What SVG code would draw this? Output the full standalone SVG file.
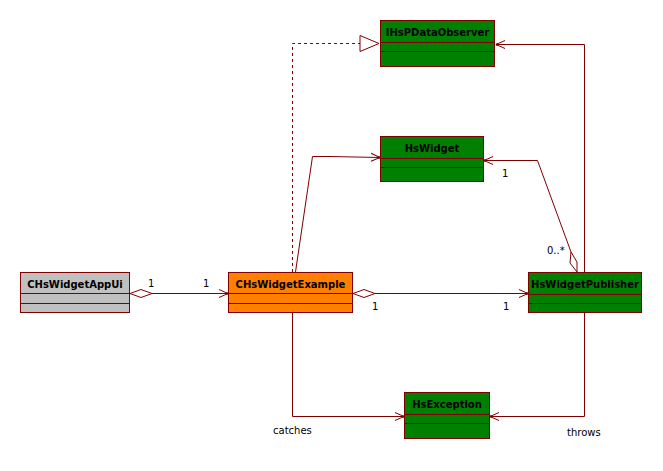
<svg xmlns="http://www.w3.org/2000/svg" width="663" height="471" viewBox="0 0 663 471">
  <style>
    .box { stroke: #800000; stroke-width: 1; }
    .green { fill: #008000; }
    .orange { fill: #ff8000; }
    .grey { fill: #c0c0c0; }
    .div { stroke: #800000; stroke-width: 1; fill: none; }
    .name { font-family: "DejaVu Sans", "Liberation Sans", sans-serif; font-weight: bold; font-size: 10px; fill: #000; text-anchor: middle; }
    .lbl { font-family: "DejaVu Sans", "Liberation Sans", sans-serif; font-size: 10px; fill: #000; }
    .edge { stroke: #800000; stroke-width: 1; fill: none; }
    .dash { stroke-dasharray: 3 3; }
  </style>
  <defs>
    <marker id="open" viewBox="-10 -5 12 10" refX="0" refY="0" markerWidth="12" markerHeight="10" markerUnits="userSpaceOnUse" orient="auto">
      <path d="M-9,-4 L0,0 L-9,4" fill="none" stroke="#800000" stroke-width="1"/>
      <circle cx="-1" cy="0" r="1.2" fill="#800000"/>
    </marker>
    <marker id="tri" viewBox="-20 -9 22 18" refX="0" refY="0" markerWidth="22" markerHeight="18" markerUnits="userSpaceOnUse" orient="auto">
      <path d="M-19,-8 L0,0 L-19,8 Z" fill="#fff" stroke="#800000" stroke-width="1"/>
    </marker>
    <marker id="dia" viewBox="-2 -6 26 12" refX="0" refY="0" markerWidth="26" markerHeight="12" markerUnits="userSpaceOnUse" orient="auto">
      <path d="M0,0 L11,-4 L22,0 L11,4 Z" fill="#fff" stroke="#800000" stroke-width="1"/>
    </marker>
  </defs>

  <rect width="663" height="471" fill="#fff"/>

  <g id="connectors">
    <!-- realization: CHsWidgetExample implements IHsPDataObserver -->
    <path class="edge dash" d="M292.5,272 V43.5 H379" marker-end="url(#tri)"/>
    <!-- CHsWidgetExample uses HsWidget -->
    <path class="edge" d="M295.5,272 L312.5,156.5 H330 L380,157.5" marker-end="url(#open)"/>
    <!-- HsWidgetPublisher observes IHsPDataObserver -->
    <path class="edge" d="M584.5,272 V44.5 H496" marker-end="url(#open)"/>
    <!-- HsWidgetPublisher aggregates HsWidget -->
    <path class="edge" d="M577,272 L570,263 L571,252 L577,262 Z" fill="#fff"/>
    <path class="edge" d="M571,252 L537.5,160.5 H484" marker-end="url(#open)"/>
    <!-- CHsWidgetAppUi owns CHsWidgetExample -->
    <path class="edge" d="M130,293.5 H228" marker-start="url(#dia)" marker-end="url(#open)"/>
    <!-- CHsWidgetExample owns HsWidgetPublisher -->
    <path class="edge" d="M353,293.5 H528" marker-start="url(#dia)" marker-end="url(#open)"/>
    <!-- catches / throws HsException -->
    <path class="edge" d="M292.5,313 V416.5 H404" marker-end="url(#open)"/>
    <path class="edge" d="M584.5,313 V416.5 H490" marker-end="url(#open)"/>
  </g>

  <g id="labels">
    <text class="lbl" x="148" y="287">1</text>
    <text class="lbl" x="203" y="287">1</text>
    <text class="lbl" x="372" y="310">1</text>
    <text class="lbl" x="503" y="310">1</text>
    <text class="lbl" x="502" y="177">1</text>
    <text class="lbl" x="547" y="254">0..*</text>
    <text class="lbl" x="273" y="434">catches</text>
    <text class="lbl" x="567" y="436">throws</text>
  </g>

  <g id="IHsPDataObserver">
    <rect class="box green" x="380.5" y="20.5" width="114" height="46"/>
    <path class="div" d="M380.5,42.5 H494.5 M380.5,51.5 H494.5"/>
    <text class="name" x="437.5" y="35.5">IHsPDataObserver</text>
  </g>

  <g id="HsWidget">
    <rect class="box green" x="380.5" y="136.5" width="103" height="45"/>
    <path class="div" d="M380.5,158.5 H483.5 M380.5,167.5 H483.5"/>
    <text class="name" x="432" y="151.5">HsWidget</text>
  </g>

  <g id="CHsWidgetAppUi">
    <rect class="box grey" x="20.5" y="272.5" width="109" height="40"/>
    <path class="div" d="M20.5,293.5 H129.5 M20.5,303.5 H129.5"/>
    <text class="name" x="75" y="287.5">CHsWidgetAppUi</text>
  </g>

  <g id="CHsWidgetExample">
    <rect class="box orange" x="228.5" y="272.5" width="124" height="40"/>
    <path class="div" d="M228.5,293.5 H352.5 M228.5,303.5 H352.5"/>
    <text class="name" x="290.5" y="287.5">CHsWidgetExample</text>
  </g>

  <g id="HsWidgetPublisher">
    <rect class="box green" x="528.5" y="272.5" width="113" height="40"/>
    <path class="div" d="M528.5,294.5 H641.5 M528.5,303.5 H641.5"/>
    <text class="name" x="585" y="287.5">HsWidgetPublisher</text>
  </g>

  <g id="HsException">
    <rect class="box green" x="404.5" y="392.5" width="85" height="46"/>
    <path class="div" d="M404.5,414.5 H489.5 M404.5,423.5 H489.5"/>
    <text class="name" x="447" y="407.5">HsException</text>
  </g>
</svg>
